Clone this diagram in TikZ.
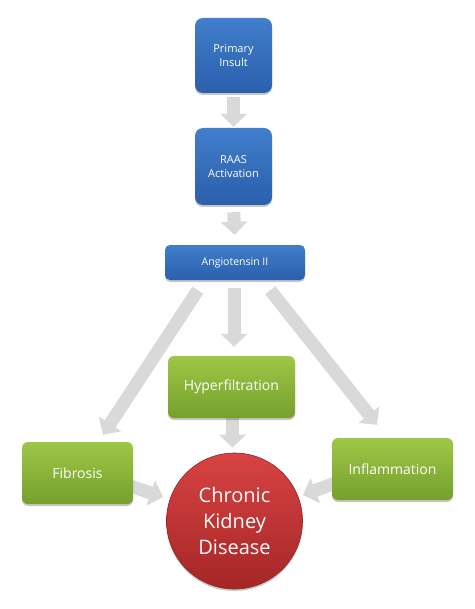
\documentclass[tikz,border=0pt]{standalone}
\usepackage{fontspec}
\setmainfont{Open Sans}
\usetikzlibrary{arrows.meta,calc,shadows,backgrounds}
\pgfdeclarelayer{canvas}
\pgfdeclarelayer{background}
\pgfsetlayers{canvas,background,main}
\definecolor{bluetop}{HTML}{417ECB}
\definecolor{bluebot}{HTML}{2A5FAC}
\definecolor{greentop}{HTML}{9FC746}
\definecolor{greenbot}{HTML}{74A02C}
\definecolor{redtop}{HTML}{D84343}
\definecolor{redbot}{HTML}{A52626}
\definecolor{arrowgray}{HTML}{D9D9D9}
\tikzset{
  boxshadow/.style={drop shadow={shadow xshift=0pt,shadow yshift=-2pt,opacity=0.22,fill=black}},
  bluebox/.style={rectangle,rounded corners=8pt,inner sep=0pt,align=center,text=white,
    top color=bluetop,bottom color=bluebot,draw=none,boxshadow,font=\fontsize{11}{14}\selectfont},
  greenbox/.style={rectangle,rounded corners=6pt,inner sep=0pt,align=center,text=white,
    top color=greentop,bottom color=greenbot,draw=none,boxshadow,font=\fontsize{14}{17}\selectfont},
  redcircle/.style={circle,inner sep=0pt,align=center,text=white,minimum size=136pt,
    top color=redtop,bottom color=redbot,draw=redbot!90!black,line width=0.6pt,boxshadow,font=\fontsize{20}{26}\selectfont},
  bigarrow/.style={draw=arrowgray,line width=13pt,-{Triangle[length=13pt,width=26pt]}},
}
\begin{document}
\begin{tikzpicture}[x=1pt,y=-1pt]
\begin{pgfonlayer}{canvas}
\fill[white] (0,0) rectangle (474,609);
\end{pgfonlayer}
\useasboundingbox (0,0) rectangle (474,609);
\node[bluebox,minimum width=77pt,minimum height=75pt] (prim) at (233.5,55.5) {Primary\\Insult};
\node[bluebox,minimum width=77pt,minimum height=77pt] (raas) at (233.5,166.5) {RAAS\\Activation};
\node[bluebox,rounded corners=5pt,minimum width=140pt,minimum height=35pt,font=\fontsize{10.5}{13}\selectfont] (ang) at (235,262.5) {Angiotensin II};
\node[greenbox,minimum width=127pt,minimum height=62pt] (hyp) at (231.5,387) {Hyperfiltration};
\node[greenbox,minimum width=111pt,minimum height=62pt] (fib) at (77.5,473) {Fibrosis};
\node[greenbox,minimum width=121pt,minimum height=62pt] (infl) at (392.5,469) {Inflammation};
\node[redcircle] (ckd) at (234.5,521) {Chronic\\Kidney\\Disease};
\begin{pgfonlayer}{background}
\draw[bigarrow,shorten <=4pt,shorten >=1pt] (prim.south) -- (raas.north);
\draw[bigarrow,shorten <=7pt,shorten >=10pt] (raas.south) -- (ang.north);
\draw[bigarrow] ($(ang.south)+(-1,8)$) -- ($(hyp.north)+(2.5,-9)$);
\draw[bigarrow] ($(ang.south west)+(33,10)$) -- ($(fib.north)+(25.5,-7)$);
\draw[bigarrow] ($(ang.south east)+(-35,10)$) -- ($(infl.north)+(-15.5,-13)$);
\draw[bigarrow,shorten <=0pt] ($(hyp.south)+(1,-2)$) -- ($(hyp.south |- ckd.north)+(1,-5)$);
\draw[bigarrow,shorten >=7pt] ($(fib.east)+(-6,12)$) -- (ckd);
\draw[bigarrow,shorten >=5pt] ($(infl.west)+(6,13)$) -- (ckd);
\end{pgfonlayer}
\end{tikzpicture}
\end{document}
